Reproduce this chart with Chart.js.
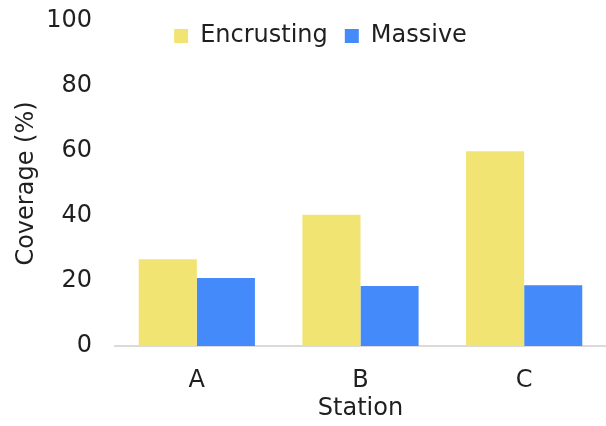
<!DOCTYPE html>
<html>
<head>
<meta charset="utf-8">
<script src="https://cdn.jsdelivr.net/npm/chart.js@4/dist/chart.umd.min.js"></script>
<style>
    body { margin: 0; background: #fff; }
    #wrap { width: 606px; height: 426px; }
</style>
</head>
<body>
<div id="wrap"><canvas id="coverChart"></canvas></div>
<script>
const stations = ['A', 'B', 'C'];
const encrusting = [26.7, 40.4, 59.9];
const massive = [20.9, 18.5, 18.7];
const yTicks = [0, 20, 40, 60, 80, 100];

const textColor = '#1f1f1f';
const fontFamily = "'DejaVu Sans', Verdana, sans-serif";

// the legend overlaps the top of the plot in the original,
// so it takes no room in the layout and gets placed afterwards
const legendOverlay = {
    id: 'legendOverlay',
    beforeLayout(chart) {
        const lg = chart.legend;
        if (lg && !lg._noSpace) {
            const origUpdate = lg.update.bind(lg);
            lg.update = function (w, h, m) {
                origUpdate(w, h, m);
                this.height = 0;
            };
            lg._noSpace = true;
        }
    },
    afterLayout(chart) {
        const lg = chart.legend;
        lg.top = 7;
        lg.bottom = 60;
        lg.left = chart.chartArea.left - 40;
        lg.right = chart.chartArea.right - 40;
    }
};

const ctx = document.getElementById('coverChart').getContext('2d');
new Chart(ctx, {
    type: 'bar',
    data: {
        labels: stations,
        datasets: [
            {
                label: 'Encrusting',
                data: encrusting,
                backgroundColor: '#f2e472'
            },
            {
                label: 'Massive',
                data: massive,
                backgroundColor: '#458afb'
            }
        ]
    },
    options: {
        responsive: true,
        maintainAspectRatio: false,
        animation: false,
        layout: { padding: { top: 21, left: 0, right: 0, bottom: 0 } },
        datasets: {
            bar: { categoryPercentage: 0.71, barPercentage: 1 }
        },
        plugins: {
            tooltip: { enabled: false },
            legend: {
                position: 'top',
                align: 'center',
                labels: {
                    boxWidth: 14,
                    boxHeight: 14,
                    padding: 17,
                    color: textColor,
                    font: { family: fontFamily, size: 24 }
                }
            }
        },
        scales: {
            x: {
                grid: { display: false, drawTicks: false },
                border: { display: true, color: '#dadada', width: 2 },
                ticks: {
                    color: textColor,
                    padding: 20,
                    font: { family: fontFamily, size: 24 }
                },
                title: {
                    display: true,
                    text: 'Station',
                    color: textColor,
                    padding: { top: 0, bottom: 3 },
                    font: { family: fontFamily, size: 24 }
                },
                afterFit: s => { s.height = 80; }
            },
            y: {
                min: 0,
                max: 100,
                grid: { display: false, drawTicks: false },
                border: { display: false },
                afterBuildTicks: s => { s.ticks = yTicks.map(v => ({ value: v })); },
                ticks: {
                    color: textColor,
                    padding: 23,
                    font: { family: fontFamily, size: 24 }
                },
                title: {
                    display: true,
                    text: 'Coverage (%)',
                    color: textColor,
                    padding: { top: 12, bottom: 0 },
                    font: { family: fontFamily, size: 24 }
                },
                // fixed width, and let the top label hang into the layout padding
                afterFit: s => {
                    s.width = 115;
                    s.paddingTop = 0;
                    s.paddingBottom = 0;
                }
            }
        }
    },
    plugins: [legendOverlay]
});
</script>
</body>
</html>
